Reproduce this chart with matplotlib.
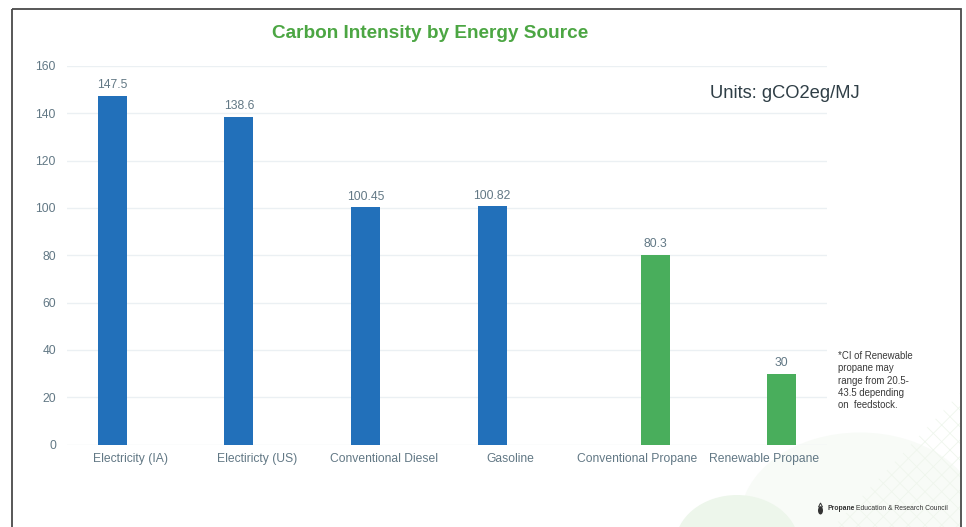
import matplotlib
matplotlib.use("Agg")
import matplotlib.pyplot as plt
from matplotlib.patches import Ellipse, Rectangle, Polygon

plt.rcParams['font.family'] = ['Liberation Sans', 'DejaVu Sans']
plt.rcParams['hatch.linewidth'] = 0.6

categories = ["Electricity (IA)", "Electiricty (US)", "Conventional Diesel",
              "Gasoline", "Conventional Propane", "Renewable Propane"]
fossil_electric = [147.5, 138.6, 100.45, 100.82, None, None]
propane = [None, None, None, None, 80.3, 30]
bar_labels = {147.5: "147.5", 138.6: "138.6", 100.45: "100.45",
              100.82: "100.82", 80.3: "80.3", 30: "30"}
y_ticks = [0, 20, 40, 60, 80, 100, 120, 140, 160]

W, H = 966, 527
BLUE = "#2270BA"
GREEN = "#49AE5C"
GRID = "#EBF0F3"
LABEL = "#627885"

fig = plt.figure(figsize=(W / 100, H / 100), dpi=100, facecolor="white")

# Slide background: pale decorative shapes in the bottom right corner
bg = fig.add_axes([0, 0, 1, 1], zorder=0)
bg.set_xlim(0, W)
bg.set_ylim(H, 0)
bg.axis("off")
slide = Rectangle((11.5, 9), 949, 530, fc="white", ec="none", zorder=0)
bg.add_patch(slide)
hill_a = Ellipse((860, 520), 240, 175, fc="#F8FBF7", ec="none", zorder=1)
hill_b = Ellipse((737, 545), 124, 100, fc="#EDF6EB", ec="none", zorder=2)
mesh = Polygon([(960, 393), (960, 527), (833, 527)], closed=True, fc="none",
               ec="#EFF6ED", hatch="xx", lw=0, zorder=3)
for p in (hill_a, hill_b, mesh):
    bg.add_patch(p)
    p.set_clip_path(slide)
bg.add_patch(Rectangle((11.5, 9), 949, 530, fc="none", ec="#4A4A4A", lw=1.3, zorder=4))

# Chart area: each category takes one equal band
ax = fig.add_axes([67 / W, 1 - 444.5 / H, (827 - 67) / W, (444.5 - 66) / H], zorder=2)
ax.patch.set_alpha(0)
ax.set_xlim(-0.5, 5.5)
ax.set_ylim(0, 160)

positions = list(range(len(categories)))
offset = 0.143
width = 0.229
for values, color, shift in ((fossil_electric, BLUE, -offset), (propane, GREEN, offset)):
    for x, v in zip(positions, values):
        if v is None:
            continue
        ax.bar(x + shift, v, width=width, color=color, zorder=3)
        ax.annotate(bar_labels[v], (x + shift, v), xytext=(0, 3),
                    textcoords="offset points", ha="center", va="bottom",
                    fontsize=8.7, color=LABEL)

ax.set_yticks(y_ticks)
ax.set_xticks(positions)
ax.set_xticklabels(categories)
ax.tick_params(axis="both", length=0, labelsize=8.7, labelcolor=LABEL)
ax.tick_params(axis="y", pad=8)
ax.tick_params(axis="x", pad=6)
ax.grid(axis="y", color=GRID, lw=1, zorder=0)
for s in ax.spines.values():
    s.set_visible(False)

# Slide text
fig.text(430 / W, 1 - 33.5 / H, "Carbon Intensity by Energy Source", ha="center",
         va="center", fontsize=13.7, fontweight="bold", color="#4CA643")
fig.text(710 / W, 1 - 93.5 / H, "Units: gCO2eg/MJ", ha="left", va="center",
         fontsize=13.2, color="#2F3E46")
fig.text(838.5 / W, 1 - 380.5 / H,
         "*CI of Renewable\npropane may\nrange from 20.5-\n43.5 depending\non  feedstock.",
         ha="left", va="center", fontsize=6.9, color="#3A3A3A", linespacing=1.3)

# Footer logo and organisation name
bg.add_patch(Ellipse((820.5, 510.5), 5, 8, fc="#333333", ec="none", zorder=5))
bg.add_patch(Polygon([(818.5, 507), (822.5, 507), (820.5, 503)], closed=True,
                     fc="none", ec="#333333", lw=0.7, zorder=5))
name = fig.text(827 / W, 1 - 509 / H, "Propane", ha="left", va="center",
                fontsize=4.9, fontweight="bold", color="#333333")
fig.canvas.draw()
right = name.get_window_extent().x1
fig.text((right + 2) / W, 1 - 509 / H, "Education & Research Council", ha="left",
         va="center", fontsize=4.9, color="#333333")

fig.savefig("out.png", dpi=100)
